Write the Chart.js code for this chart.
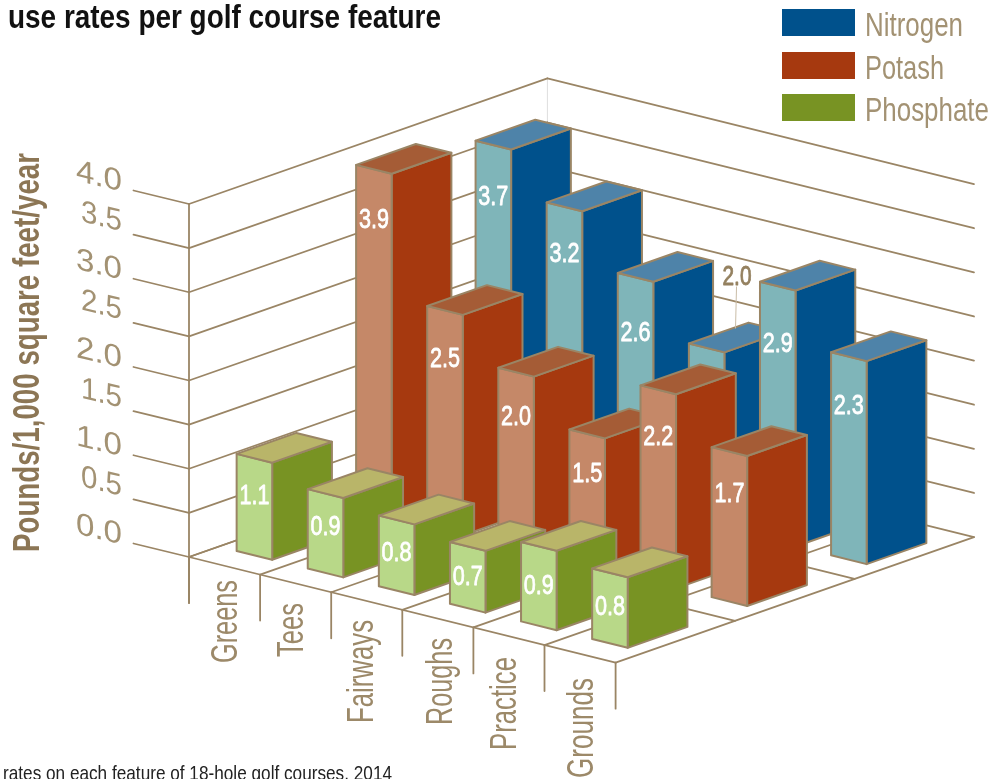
<!DOCTYPE html>
<html>
<head>
<meta charset="utf-8">
<title>use rates per golf course feature</title>
<script src="https://cdn.jsdelivr.net/npm/chart.js@4/dist/chart.umd.min.js"></script>
<style>
    html, body { margin: 0; padding: 0; background: #fff; overflow: hidden; }
    canvas { display: block; }
</style>
</head>
<body>
<canvas id="myChart" width="1001" height="779"></canvas>
<script>
const categories = ['Greens', 'Tees', 'Fairways', 'Roughs', 'Practice', 'Grounds'];
const seriesDepth = ['Phosphate', 'Potash', 'Nitrogen'];
const nitrogen = [3.7, 3.2, 2.6, 2.0, 2.9, 2.3];
const potash = [3.9, 2.5, 2.0, 1.5, 2.2, 1.7];
const phosphate = [1.1, 0.9, 0.8, 0.7, 0.9, 0.8];
const yTicks = [0, 0.5, 1, 1.5, 2, 2.5, 3, 3.5, 4];

// how far the 3d floor runs on screen for the two floor axes
const catVec = { x: 426.6, y: 105.7 };
const depthVec = { x: 358.4, y: -125.6 };

const tan = '#9a8565';
const labelTan = '#94805f';

// hand placed label spots, the original is not regular here
const catLabelBaseX = [237, 303, 373, 452, 516, 593];
const catLabelTopY = [580, 603, 620, 638, 657, 678];
const catLabelLen = [83, 54, 103, 87, 93, 100];
const nitrogenLabelDrop = [64, 60, 68, null, 70, 62];
const potashLabelDrop = [63, 61, 57, 52, 60, 55];
const phosphateLabelDrop = [50, 46, 45, 43, 52, 47];

function project(chart, px, py, fz) {
    const x = chart.scales.x;
    const fx = (px - x.left) / x.width;
    return {
        x: x.left + fx * catVec.x + fz * depthVec.x,
        y: py + fx * catVec.y + fz * depthVec.y
    };
}

function line(ctx, a, b, color, width) {
    ctx.strokeStyle = color;
    ctx.lineWidth = width;
    ctx.beginPath();
    ctx.moveTo(a.x, a.y);
    ctx.lineTo(b.x, b.y);
    ctx.stroke();
}

function face(ctx, pts, fill) {
    ctx.fillStyle = fill;
    ctx.beginPath();
    pts.forEach((p, i) => i ? ctx.lineTo(p.x, p.y) : ctx.moveTo(p.x, p.y));
    ctx.closePath();
    ctx.fill();
    ctx.stroke();
}

// text squeezed to the wanted length, align is always left of x,y before the transform
function text(ctx, str, x, y, font, color, len, rot, shear, extra) {
    ctx.save();
    ctx.font = font;
    ctx.fillStyle = color;
    ctx.textBaseline = 'alphabetic';
    ctx.textAlign = 'left';
    ctx.translate(x, y);
    if (rot) ctx.rotate(rot);
    if (shear) ctx.transform(1, shear, 0, 1, 0, 0);
    if (len) ctx.scale(len / ctx.measureText(str).width, 1);
    ctx.fillText(str, 0, 0);
    if (extra) {
        ctx.strokeStyle = color;
        ctx.lineWidth = extra;
        ctx.strokeText(str, 0, 0);
    }
    ctx.restore();
}

const floorAndWalls = {
    id: 'floorAndWalls',
    beforeDatasetsDraw(chart) {
        const { ctx, scales: { x, y } } = chart;
        const bottom = y.getPixelForValue(0);
        ctx.save();
        ctx.lineCap = 'round';

        // light corner line at the back
        const backBase = project(chart, x.left, bottom, 1);
        const backTop = project(chart, x.left, y.getPixelForValue(4), 1);
        line(ctx, backBase, backTop, '#dedede', 1);

        // walls with the stubs going left for the tick labels
        yTicks.forEach((v) => {
            const py = y.getPixelForValue(v);
            const corner = project(chart, x.left, py, 0);
            const back = project(chart, x.left, py, 1);
            const right = project(chart, x.right, py, 1);
            const stub = { x: corner.x - 55.5, y: corner.y - 13.5 };
            line(ctx, stub, corner, tan, 1.8);
            line(ctx, corner, back, tan, 1.8);
            line(ctx, back, right, tan, 1.8);

            const major = v % 1 === 0;
            const len = major ? 46 : 41;
            const rightEnd = 122;
            const baseY = stub.y + (major ? 1 : -3.5);
            text(ctx, v.toFixed(1), rightEnd - len, baseY - len * 0.24, '31px "Liberation Sans"', '#a39273', len, 0, 0.24);
        });
        line(ctx, { x: x.left, y: y.getPixelForValue(4) }, { x: x.left, y: bottom + 46 }, tan, 1.8);

        // floor lines running along the categories
        [0, 1 / 3, 2 / 3].forEach((fz) => {
            line(ctx, project(chart, x.left, bottom, fz), project(chart, x.right, bottom, fz), tan, 1.8);
        });

        // floor lines running back, and the category ticks below them
        for (let k = 0; k <= categories.length; k++) {
            const px = x.left + k * x.width / categories.length;
            const front = project(chart, px, bottom, 0);
            line(ctx, front, project(chart, px, bottom, 1), tan, 1.8);
            line(ctx, front, { x: front.x, y: front.y + 46 }, tan, 1.8);
        }

        categories.forEach((c, k) => {
            text(ctx, c, catLabelBaseX[k], catLabelTopY[k] + catLabelLen[k], '36px "Liberation Sans Narrow", "Liberation Sans"', '#9c8969', catLabelLen[k], -Math.PI / 2);
        });
        ctx.restore();
    }
};

const boxes = {
    id: 'boxes',
    afterDatasetsDraw(chart) {
        const { ctx, scales: { x, z } } = chart;
        ctx.save();
        ctx.lineJoin = 'round';

        chart.data.datasets.forEach((ds, d) => {
            const s = seriesDepth.indexOf(ds.label);
            const zc = (z.getPixelForValue(s) - z.left) / z.width;
            const half = 0.5 * (1 / seriesDepth.length) / 2;
            chart.getDatasetMeta(d).data.forEach((bar, k) => {
                const l = bar.x - bar.width / 2;
                const r = bar.x + bar.width / 2;
                const p = (px, py, fz) => project(chart, px, py, fz);
                const fTL = p(l, bar.y, zc - half);
                const fTR = p(r, bar.y, zc - half);
                const bTR = p(r, bar.y, zc + half);
                const bTL = p(l, bar.y, zc + half);
                const fBL = p(l, bar.base, zc - half);
                const fBR = p(r, bar.base, zc - half);
                const bBR = p(r, bar.base, zc + half);

                ctx.lineWidth = 2;
                ctx.strokeStyle = tan;
                face(ctx, [fTR, bTR, bBR, fBR], ds.sideColor);
                face(ctx, [fTL, fTR, fBR, fBL], ds.frontColor);
                face(ctx, [fTL, bTL, bTR, fTR], ds.topColor);

                const drop = ds.labelDrop[k];
                const str = ds.data[k].toFixed(1);
                if (drop !== null) {
                    text(ctx, str, (fTL.x + fTR.x) / 2 - 15, fTL.y + drop, '28px "Liberation Sans"', '#fff', 30, 0, 0, 0.8);
                }
            });
        });

        // the one value that does not fit on its bar
        const d = chart.data.datasets.findIndex((ds) => ds.label === 'Nitrogen');
        const k = chart.data.datasets[d].labelDrop.indexOf(null);
        const bar = chart.getDatasetMeta(d).data[k];
        const zc = (z.getPixelForValue(seriesDepth.indexOf('Nitrogen')) - z.left) / z.width;
        const top = project(chart, bar.x, bar.y, zc);
        text(ctx, chart.data.datasets[d].data[k].toFixed(1), top.x - 14, top.y - 52, '28px "Liberation Sans"', labelTan, 29, 0, 0, 0.9);
        line(ctx, { x: top.x + 0, y: top.y - 51 }, { x: top.x - 1, y: top.y - 9 }, '#c9bca6', 1);
        ctx.restore();
    }
};

const page = {
    id: 'page',
    afterDraw(chart) {
        const { ctx } = chart;
        ctx.save();
        text(ctx, 'use rates per golf course feature', 8, 28, 'bold 34px "Liberation Sans Narrow", "Liberation Sans"', '#111', 433);
        text(ctx, 'Pounds/1,000 square feet/year', 39, 552, 'bold 37px "Liberation Sans Narrow", "Liberation Sans"', '#8c7655', 399, -Math.PI / 2);
        text(ctx, 'rates on each feature of 18-hole golf courses, 2014', 3, 780, '21px "Liberation Sans Narrow", "Liberation Sans"', '#222', 389);

        const legendY = [9, 52, 94];
        const legendLen = [97, 78, 123];
        ['Nitrogen', 'Potash', 'Phosphate'].forEach((name, i) => {
            const ds = chart.data.datasets.find((item) => item.label === name);
            ctx.fillStyle = ds.sideColor;
            ctx.fillRect(782, legendY[i], 73, 27);
            text(ctx, name, 865, legendY[i] + 27, '34px "Liberation Sans Narrow", "Liberation Sans"', '#a39273', legendLen[i] + 1);
        });
        ctx.restore();
    }
};

new Chart(document.getElementById('myChart'), {
    type: 'bar',
    data: {
        labels: categories,
        datasets: [
            { label: 'Nitrogen', data: nitrogen, backgroundColor: 'transparent', sideColor: '#00518c', frontColor: '#7fb5b9', topColor: '#4e83a9', labelDrop: nitrogenLabelDrop },
            { label: 'Potash', data: potash, backgroundColor: 'transparent', sideColor: '#a6390f', frontColor: '#c58868', topColor: '#a55c36', labelDrop: potashLabelDrop },
            { label: 'Phosphate', data: phosphate, backgroundColor: 'transparent', sideColor: '#789323', frontColor: '#b8d888', topColor: '#b9b569', labelDrop: phosphateLabelDrop }
        ]
    },
    options: {
        responsive: false,
        animation: false,
        events: [],
        layout: { padding: { left: 189, right: 385.4, top: 204, bottom: 222 } },
        datasets: { bar: { grouped: false, barPercentage: 0.5, categoryPercentage: 1, borderWidth: 0 } },
        plugins: { legend: { display: false }, tooltip: { enabled: false } },
        scales: {
            x: { type: 'category', display: false },
            z: { type: 'category', axis: 'x', labels: seriesDepth, display: false, offset: true },
            y: { type: 'linear', display: false, min: 0, max: 4 }
        }
    },
    plugins: [floorAndWalls, boxes, page]
});
</script>
</body>
</html>
